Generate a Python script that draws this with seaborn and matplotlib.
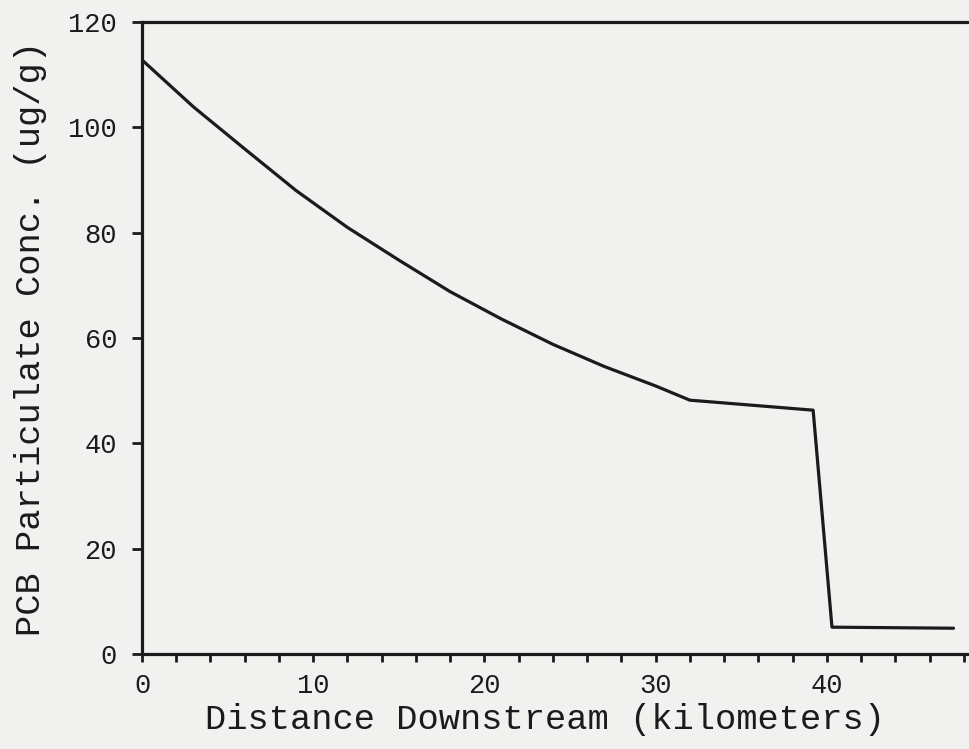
import matplotlib
matplotlib.use("Agg")
import matplotlib.pyplot as plt
import seaborn as sns
import pandas as pd
from matplotlib.ticker import MultipleLocator

# Modelled particulate PCB concentration along the stream
distance_km = [0, 3, 6, 9, 12, 15, 18, 21, 24, 27, 30, 32.0, 39.2, 40.3, 47.4]
pcb_ug_g = [112.8, 103.9, 95.9, 88.0, 81.0, 74.8, 68.8, 63.6, 58.8, 54.6, 50.9, 48.2, 46.3, 5.1, 4.9]

x_ticks = [0, 10, 20, 30, 40]
y_ticks = [0, 20, 40, 60, 80, 100, 120]

df = pd.DataFrame({"distance": distance_km, "pcb": pcb_ug_g})

sns.set_style("ticks")
plt.rcParams["font.family"] = ["Liberation Mono", "DejaVu Sans Mono"]

ink = "#1b1b1b"
paper = "#f1f1ef"

fig = plt.figure(figsize=(9.70, 7.49), dpi=100, facecolor=paper)
ax = fig.add_axes([0.1464, 0.1268, 0.8825, 0.8438])
ax.set_facecolor(paper)

sns.lineplot(data=df, x="distance", y="pcb", ax=ax, sort=False,
             color=ink, linewidth=2.3, estimator=None)

ax.set_xlim(0, 50)
ax.set_ylim(0, 120)
ax.set_xticks(x_ticks)
ax.xaxis.set_minor_locator(MultipleLocator(2))
ax.set_yticks(y_ticks)

for side in ["left", "bottom", "top", "right"]:
    ax.spines[side].set_linewidth(2.3)
    ax.spines[side].set_color(ink)

ax.tick_params(axis="x", which="both", direction="out", length=6, width=2.0,
               color=ink, labelsize=19.5, labelcolor=ink, pad=8)
ax.tick_params(axis="y", which="major", direction="out", length=7, width=2.0,
               color=ink, labelsize=19.5, labelcolor=ink, pad=11)

ax.set_xlabel("Distance Downstream (kilometers)", fontsize=25.5, color=ink)
ax.set_ylabel("PCB Particulate Conc. (ug/g)", fontsize=25.5, color=ink)
ax.xaxis.set_label_coords((545 - 142) / (0.8825 * 970), -0.078)
ax.yaxis.set_label_coords(-0.111, 0.5)

fig.savefig("out.png", dpi=100, facecolor=paper)
